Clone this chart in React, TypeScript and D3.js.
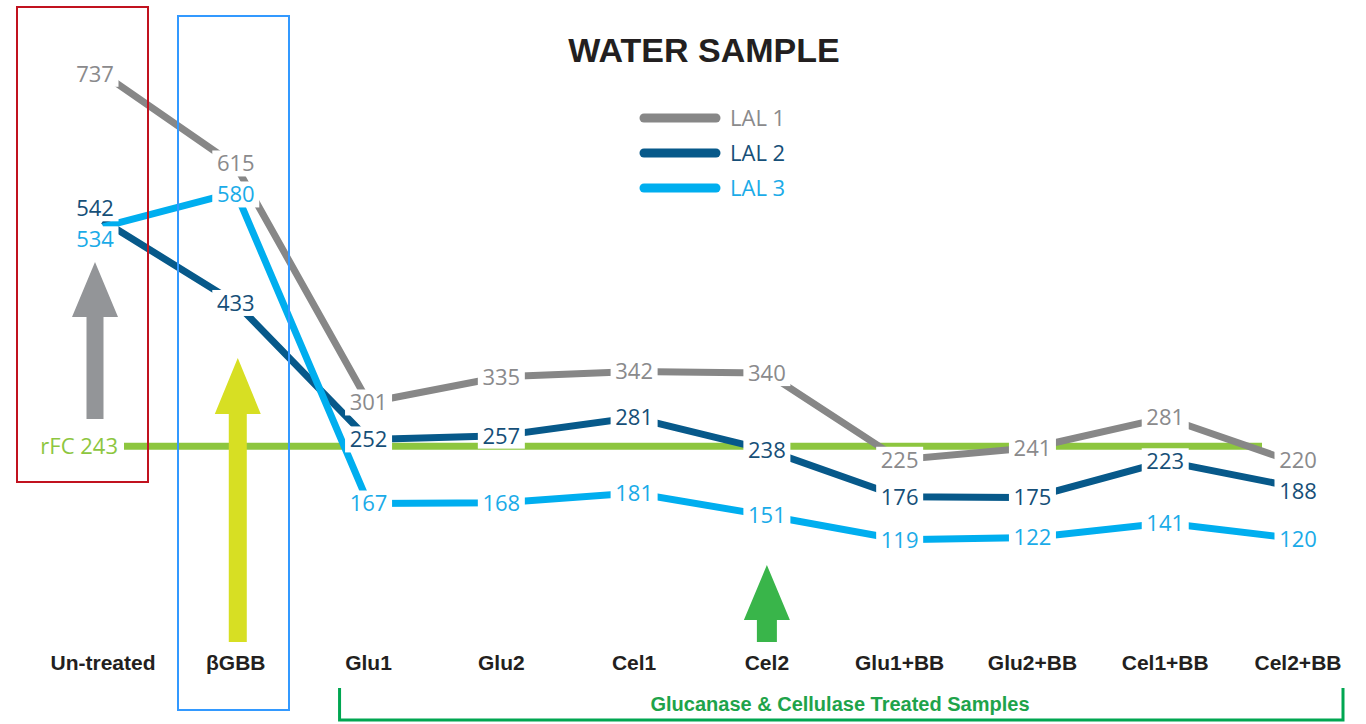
import React from 'react';
import * as d3 from 'd3';

const categories = ['Un-treated', 'βGBB', 'Glu1', 'Glu2', 'Cel1', 'Cel2', 'Glu1+BB', 'Glu2+BB', 'Cel1+BB', 'Cel2+BB'];
const seriesNames = ['LAL 1', 'LAL 2', 'LAL 3'];
const lal1 = [737, 615, 301, 335, 342, 340, 225, 241, 281, 220];
const lal2 = [542, 433, 252, 257, 281, 238, 176, 175, 223, 188];
const lal3 = [534, 580, 167, 168, 181, 151, 119, 122, 141, 120];
const rfcValue = 243;
const rfcLabel = 'rFC 243';
const chartTitle = 'WATER SAMPLE';
const bracketLabel = 'Glucanase & Cellulase Treated Samples';

const W = 1366;
const H = 724;

const lineColors = ['#878787', '#07598a', '#00aeef'];
const textColors = ['#8a8a8c', '#164f78', '#1aabe8'];
const green = '#8dc63f';

const labelFont = "'Open Sans', 'Liberation Sans', sans-serif";
const boldFont = "'Liberation Sans', Arial, sans-serif";

// push labels within a column apart so they don't sit on each other
const spread = (ys: number[], gap: number) => {
  const idx = ys.map((y, i) => i).sort((a, b) => ys[a] - ys[b]);
  const out = ys.slice();
  for (let iter = 0; iter < 10; iter++) {
    for (let k = 1; k < idx.length; k++) {
      const a = idx[k - 1], b = idx[k];
      const d = out[b] - out[a];
      if (d < gap) {
        const m = (gap - d) / 2;
        out[a] -= m;
        out[b] += m;
      }
    }
  }
  return out;
};

const arrow = (cx: number, tip: number, base: number, bottom: number, head: number, shaft: number) =>
  `M${cx},${tip}L${cx + head},${base}L${cx + shaft},${base}L${cx + shaft},${bottom}L${cx - shaft},${bottom}L${cx - shaft},${base}L${cx - head},${base}Z`;

const App = () => {
  const series = [lal1, lal2, lal3];

  const x = d3.scalePoint<string>().domain(categories).range([103, 1298]);
  const y = d3.scaleLinear().domain([100, 750]).range([554, 64]);

  const line = d3.line<number>()
    .x((d, i) => x(categories[i]) as number)
    .y(d => y(d));

  // label positions per column
  const labelY: number[][] = series.map(() => []);
  categories.forEach((c, ci) => {
    const ys = spread(series.map(s => y(s[ci])), 31);
    ys.forEach((v, si) => { labelY[si][ci] = v; });
  });

  const xs = (c: string) => x(c) as number;
  const lastX = xs(categories[categories.length - 1]);

  return (
    <svg width={W} height={H} style={{ position: 'absolute', left: 0, top: 0, display: 'block', background: '#fff' }}>
      {/* title */}
      <text x={704} y={62} textAnchor="middle" fontFamily={boldFont} fontWeight={900} fontSize={34} fill="#231f20">
        {chartTitle}
      </text>

      {/* legend */}
      {seriesNames.map((n, i) => (
        <g key={n} transform={`translate(0,${118 + i * 35})`}>
          <line x1={644} x2={716} y1={0} y2={0} stroke={lineColors[i]} strokeWidth={9} strokeLinecap="round" />
          <text x={730} y={0} dy="0.36em" fontFamily={labelFont} fontSize={22} fill={textColors[i]}>{n}</text>
        </g>
      ))}

      {/* rFC reference line */}
      <line x1={124} x2={lastX - 36} y1={y(rfcValue)} y2={y(rfcValue)} stroke={green} strokeWidth={7} />
      <text x={118} y={y(rfcValue)} dy="0.36em" textAnchor="end" fontFamily={labelFont} fontSize={22} fill={green}>
        {rfcLabel}
      </text>

      {/* series lines */}
      {series.map((s, i) => (
        <path key={i} d={line(s) || ''} fill="none" stroke={lineColors[i]} strokeWidth={7} />
      ))}

      {/* arrows */}
      <path d={arrow(xs(categories[0]) - 8, 262, 317, 419, 23, 8.5)} fill="#939598" />
      <path d={arrow(xs(categories[1]) + 2, 358, 414, 642, 23, 9)} fill="#d7df23" />
      <path d={arrow(xs(categories[5]), 565, 620, 642, 23, 10)} fill="#39b54a" />

      {/* highlight boxes */}
      <rect x={17} y={7} width={131} height={475} fill="none" stroke="#c1121f" strokeWidth={2} />
      <rect x={178} y={16} width={111} height={694} fill="none" stroke="#3399ff" strokeWidth={2} />

      {/* value labels */}
      {series.map((s, si) =>
        s.map((v, ci) => {
          const t = String(v);
          const w = t.length * 13 + 8;
          const cx = xs(categories[ci]) - (ci === 0 ? 8 : 0);
          const cy = labelY[si][ci];
          return (
            <g key={`${si}-${ci}`}>
              <rect x={cx - w / 2} y={cy - 13} width={w} height={26} fill="#fff" />
              <text x={cx} y={cy} dy="0.36em" textAnchor="middle" fontFamily={labelFont} fontSize={22} fill={textColors[si]}>
                {t}
              </text>
            </g>
          );
        })
      )}

      {/* category labels */}
      {categories.map(c => (
        <text key={c} x={xs(c)} y={662} dy="0.36em" textAnchor="middle" fontFamily={boldFont} fontWeight={700} fontSize={21} fill="#231f20">
          {c}
        </text>
      ))}

      {/* bracket for treated samples */}
      <path
        d={`M${xs(categories[2]) - 29},688V720H${lastX + 45}V688`}
        fill="none"
        stroke="#00a651"
        strokeWidth={3}
      />
      <text x={840} y={704} dy="0.36em" textAnchor="middle" fontFamily={boldFont} fontWeight={700} fontSize={20} fill="#1ea34a">
        {bracketLabel}
      </text>
    </svg>
  );
};

export default App;
